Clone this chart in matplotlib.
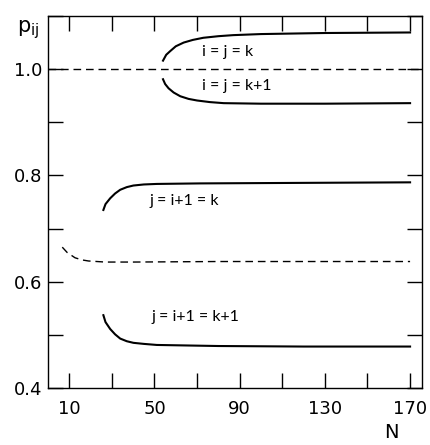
import numpy as np
import matplotlib.pyplot as plt

plt.rcParams['font.family'] = ['DejaVu Sans']
plt.rcParams['mathtext.default'] = 'regular'

# curves read as (N, p_ij) pairs
n_kk = [54, 55.5, 57.4, 60, 63.7, 68, 72.9, 80, 87, 100, 130, 170]
p_kk = [1.016, 1.027, 1.034, 1.043, 1.050, 1.055, 1.059, 1.062, 1.064, 1.066, 1.068, 1.069]

n_kk1 = [54, 55, 56.6, 59, 62.1, 66, 70, 76, 82.5, 100, 130, 170]
p_kk1 = [0.981, 0.972, 0.964, 0.956, 0.949, 0.944, 0.941, 0.938, 0.936, 0.935, 0.935, 0.936]

n_ik = [26, 27, 29.2, 31.5, 33.9, 37, 40.1, 45, 51.1, 71.5, 120, 170]
p_ik = [0.735, 0.746, 0.757, 0.766, 0.773, 0.778, 0.781, 0.783, 0.784, 0.785, 0.786, 0.787]

n_dash = [6.7, 9, 12.7, 16, 19, 23, 26.8, 40, 80, 170]
p_dash = [0.665, 0.655, 0.645, 0.641, 0.639, 0.638, 0.637, 0.637, 0.638, 0.638]

n_ik1 = [26, 27, 29.2, 31.5, 33.9, 37, 40.1, 45, 51.1, 80, 120, 170]
p_ik1 = [0.537, 0.524, 0.511, 0.501, 0.493, 0.488, 0.485, 0.483, 0.481, 0.479, 0.478, 0.478]

x_ticks = np.arange(10, 171, 20)
x_labels = [10, 50, 90, 130, 170]
y_ticks = np.arange(0.4, 1.101, 0.1)
y_labels = [0.4, 0.6, 0.8, 1.0]

fig = plt.figure(figsize=(4.3, 4.45), dpi=100)
ax = fig.add_axes([48/430, 1-388/445, 374/430, 372/445])

ax.plot(n_kk, p_kk, 'k-', lw=1.5)
ax.plot(n_kk1, p_kk1, 'k-', lw=1.5)
ax.plot(n_ik, p_ik, 'k-', lw=1.5)
ax.plot(n_ik1, p_ik1, 'k-', lw=1.5)
ax.plot(n_dash, p_dash, 'k', lw=1, dashes=(5.5, 3.5))
ax.axhline(1.0, color='k', lw=1, dashes=(5.5, 3.5))

lab = dict(fontsize=11.5, va='center', family=['Lato', 'DejaVu Sans'])
ax.text(72.5, 1.032, 'i = j = k', **lab)
ax.text(72.5, 0.968, 'i = j = k+1', **lab)
ax.text(47.5, 0.751, 'j = i+1 = k', **lab)
ax.text(48.5, 0.533, 'j = i+1 = k+1', **lab)

ax.set_xlim(0, 175.6)
ax.set_ylim(0.4, 1.1)
ax.set_xticks(x_ticks)
ax.set_xticklabels([str(t) if t in x_labels else '' for t in x_ticks])
ax.set_yticks(y_ticks)
ax.set_yticklabels(['%.1f' % t if any(abs(t - v) < 1e-6 for v in y_labels) else '' for t in y_ticks])
ax.tick_params(direction='in', length=11, width=1, top=True, right=True, labelsize=13)
ax.tick_params(axis='x', pad=9)
ax.tick_params(axis='y', pad=4)
for s in ax.spines.values():
    s.set_linewidth(1)

fig.text(17/430, 1-30/445, r'$p_{ij}$', fontsize=15, va='center')
fig.text(391/430, 1-433/445, 'N', fontsize=14, ha='center', va='center')

fig.savefig('out.png', dpi=100)
